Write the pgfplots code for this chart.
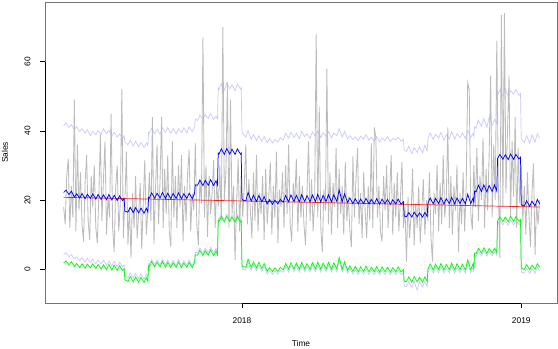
\documentclass[border=0pt]{standalone}
\usepackage{pgfplots}
\usepackage{pgfplotstable}
\pgfplotsset{compat=1.18}
\usepackage{fontspec}
\setmainfont{Liberation Sans}

\definecolor{rawgray}{RGB}{188,188,188}
\definecolor{bandblue}{RGB}{200,200,255}

% day index: 0 = 1 Jan 2017
% d  fit  upper  lower  green
\pgfplotstableread{
d fit up lo gr
132 22.2 41.5 4.2 1.9
135 22.9 42.3 4.8 2.4
139 21.6 41.0 3.6 1.3
142 22.6 41.8 4.3 2.2
146 20.9 40.4 3.0 0.8
149 21.8 41.2 3.6 1.7
153 20.6 39.8 2.5 0.5
156 21.9 40.6 3.4 1.6
160 20.4 39.4 2.1 0.3
163 21.7 40.3 3.2 1.5
167 20.5 38.6 1.9 0.4
170 21.8 39.9 2.9 1.6
174 20.3 38.9 1.6 0.2
177 21.6 40.1 2.7 1.4
181 20.2 39.0 1.5 0.1
184 21.5 40.6 2.6 1.3
188 20.1 39.2 1.2 -0.1
191 21.6 40.2 2.4 1.4
195 20.0 38.5 1.0 -0.2
198 21.4 39.6 2.3 1.2
202 19.9 38.2 0.8 -0.3
205 21.2 39.1 2.0 1.0
209 19.9 37.8 0.8 -0.3
211 20.4 38.6 1.3 0.2
212 16.8 36.8 -2.0 -3.0
216 16.5 36.0 -2.5 -3.5
219 17.9 37.3 -1.1 -2.1
223 16.4 35.6 -2.6 -3.6
226 17.8 37.0 -1.2 -2.2
230 16.3 35.4 -2.7 -3.7
233 17.7 36.6 -1.3 -2.3
237 16.2 35.2 -2.8 -3.8
240 17.6 36.5 -1.4 -2.4
242 16.5 35.8 -2.5 -3.5
243 20.8 39.6 1.6 1.0
244 20.6 39.4 1.4 0.8
247 22.1 40.8 2.8 2.2
251 20.5 39.2 1.3 0.7
254 22.0 40.5 2.7 2.1
258 20.6 39.0 1.3 0.7
261 22.2 40.9 2.9 2.3
265 20.5 39.6 1.2 0.6
268 22.0 41.0 2.7 2.0
272 20.4 39.3 1.1 0.5
275 21.9 40.7 2.6 1.9
279 20.5 39.1 1.2 0.6
282 22.1 40.6 2.8 2.1
286 20.4 39.5 1.1 0.5
289 21.8 40.9 2.5 1.8
293 20.5 39.4 1.2 0.6
296 22.0 41.2 2.7 2.0
300 20.4 39.8 1.1 0.5
303 21.9 41.0 2.6 1.9
304 24.4 43.4 4.9 4.2
307 24.3 43.0 4.8 4.1
310 25.8 44.6 6.2 5.5
314 24.2 43.2 4.7 4.0
317 25.7 44.8 6.1 5.4
321 24.3 43.6 4.8 4.1
324 25.9 45.0 6.3 5.6
328 24.2 43.3 4.6 3.9
331 25.6 44.2 6.0 5.3
333 24.4 43.5 4.9 4.2
334 33.6 52.4 14.7 14.1
335 33.3 52.0 14.4 13.8
338 34.8 53.6 15.8 15.2
342 33.2 51.8 14.3 13.7
345 34.9 53.8 15.9 15.3
349 33.3 52.2 14.4 13.8
352 34.7 53.3 15.7 15.1
356 33.2 51.6 14.2 13.6
359 34.8 53.5 15.8 15.2
363 33.3 52.1 14.3 13.7
364 33.6 52.5 14.6 14.0
365 20.3 39.8 0.4 1.2
366 20.0 39.3 0.0 0.8
370 19.8 38.2 -0.2 0.6
373 22.2 40.1 2.1 2.9
377 19.7 37.6 -0.3 0.5
380 21.4 39.0 1.3 2.1
384 19.6 37.2 -0.4 0.4
387 21.3 38.6 1.2 2.0
391 19.5 36.9 -0.6 0.2
394 21.0 38.4 0.9 1.7
398 18.9 36.6 -1.4 -0.6
401 20.1 37.8 -0.3 0.5
405 18.8 36.5 -1.5 -0.7
408 20.0 37.5 -0.4 0.4
412 18.9 36.8 -1.4 -0.6
415 20.2 38.0 -0.2 0.6
419 19.4 37.4 -0.9 -0.1
422 21.3 39.3 0.9 1.7
426 19.5 37.9 -0.8 0.0
429 21.5 39.6 1.1 1.9
433 19.6 38.1 -0.7 0.1
436 21.4 39.4 1.0 1.8
440 19.5 37.7 -0.8 0.0
443 21.6 39.9 1.2 2.0
447 19.6 38.3 -0.7 0.1
450 21.3 39.2 0.9 1.7
454 19.5 37.8 -0.8 0.0
457 21.5 39.7 1.1 1.9
461 19.6 38.5 -0.7 0.1
464 21.7 40.0 1.3 2.1
468 19.5 38.1 -0.8 0.0
471 21.4 39.5 1.0 1.8
475 19.6 38.4 -0.7 0.1
478 21.6 39.8 1.2 2.0
482 19.5 38.0 -0.8 0.0
485 21.5 39.4 1.1 1.9
489 19.6 38.6 -0.7 0.1
492 22.9 40.6 2.6 3.4
496 19.5 38.2 -0.8 0.0
499 21.8 39.9 1.4 2.2
503 19.3 37.7 -1.1 -0.3
506 20.6 38.6 0.2 1.0
510 19.0 37.5 -1.4 -0.6
513 20.4 38.3 0.0 0.8
517 18.9 37.1 -1.5 -0.7
520 20.3 38.5 -0.1 0.7
524 19.0 37.6 -1.4 -0.6
527 20.5 38.9 0.1 0.9
531 18.9 37.3 -1.5 -0.7
534 20.2 38.2 -0.2 0.6
538 18.9 37.0 -1.5 -0.7
541 20.4 38.4 0.0 0.8
545 18.8 36.8 -1.6 -0.8
548 20.3 38.0 -0.1 0.7
552 18.9 37.2 -1.5 -0.7
555 20.2 38.3 -0.2 0.6
559 18.8 36.9 -1.6 -0.8
562 20.1 37.8 -0.3 0.5
566 18.9 37.4 -1.5 -0.7
569 20.3 38.2 -0.1 0.7
573 18.8 37.0 -1.6 -0.8
576 19.5 37.6 -0.9 -0.1
577 15.4 34.6 -4.8 -3.4
580 15.2 34.0 -5.0 -3.6
583 16.4 35.6 -3.6 -2.2
587 15.1 33.4 -5.2 -3.7
590 16.5 35.2 -3.5 -2.1
594 15.2 33.8 -6.0 -3.6
597 16.3 35.4 -3.7 -2.3
601 15.1 33.6 -5.1 -3.7
604 16.4 35.8 -3.6 -2.2
607 15.3 34.2 -4.9 -3.5
608 19.1 37.8 -0.9 0.0
611 20.6 39.4 0.7 1.6
615 18.9 37.5 -1.1 -0.2
618 20.5 39.0 0.6 1.5
622 19.0 37.9 -1.0 -0.1
625 20.7 39.6 0.8 1.7
629 18.9 37.3 -1.1 -0.2
632 20.4 38.9 0.5 1.4
636 19.0 37.7 -1.0 -0.1
639 20.8 39.8 0.9 1.8
643 18.9 37.6 -1.1 -0.2
646 20.6 39.2 0.7 1.6
650 19.0 38.0 -1.0 -0.1
653 20.5 39.5 0.6 1.5
657 18.9 37.8 -1.1 -0.2
660 21.7 40.2 1.8 2.7
664 19.0 38.1 -1.0 -0.1
667 20.6 39.3 0.7 1.6
668 19.2 38.3 -0.8 0.1
669 22.6 41.2 3.9 4.7
671 22.4 40.8 3.8 4.6
674 24.3 43.1 5.3 6.1
678 22.5 41.3 3.9 4.7
681 24.4 43.6 5.4 6.2
685 22.4 41.0 3.8 4.6
688 24.2 43.9 5.2 6.0
692 22.5 41.6 3.9 4.7
695 24.4 43.4 5.3 6.1
698 22.6 42.0 4.0 4.8
699 32.0 50.4 12.9 13.9
702 33.2 51.8 14.2 15.2
706 31.8 50.0 12.8 13.8
709 33.1 52.3 14.1 15.1
713 31.7 49.8 12.7 13.7
716 33.3 51.6 14.3 15.3
720 31.8 50.6 12.8 13.8
723 33.2 52.0 14.2 15.2
727 31.9 50.2 12.9 13.9
729 32.4 50.8 13.4 14.4
730 18.6 37.8 -0.8 0.3
734 18.3 36.6 -1.1 0.0
737 19.8 38.6 0.3 1.3
741 18.2 36.4 -1.2 -0.1
744 19.7 38.9 0.2 1.2
748 18.3 36.8 -1.1 0.0
751 20.2 39.2 0.6 1.6
754 18.9 37.9 -0.5 0.6
}\fitdata

\begin{document}
\begin{tikzpicture}
\begin{axis}[
  scale only axis,
  width=512bp, height=301bp,
  xmin=107.6, xmax=776.7,
  ymin=-9.74, ymax=77.25,
  xtick={365,730}, xticklabels={2018,2019},
  ytick={0,20,40,60},
  tick pos=left,
  tick align=outside,
  major tick length=5bp,
  tick style={black, line width=0.6pt},
  axis line style={black!55, line width=0.6pt},
  ticklabel style={font=\fontsize{8.4}{10}\selectfont},
  /pgf/number format/assume math mode=true,
  yticklabel style={rotate=90, anchor=south},
  xticklabel shift=6bp,
  yticklabel shift=6bp,
  clip mode=individual,
]
\addplot[bandblue, line width=0.7pt] table[x=d, y=up] {\fitdata};
\addplot[bandblue, line width=0.7pt] table[x=d, y=lo] {\fitdata};
\addplot[rawgray, line width=0.85pt] coordinates {
(132,18)(134,13)(136,27)(138,32)(140,12)(142,24)(144,15)(146,49)(148,11)(150,36)
(152,17)(154,28)(156,13)(158,8)(160,25)(162,33)(164,14)(166,8.5)(168,27)(170,18)
(172,30)(174,12)(176,7.6)(178,22)(180,39)(182,14)(184,26)(186,37)(188,10)(190,21)
(192,15)(194,45)(196,12)(198,5)(200,24)(202,30)(204,11)(206,19)(208,52)(210,9)
(212,20)(214,34)(216,7)(218,18)(220,3.3)(222,22)(224,12)(226,27)(228,9)(230,16)
(232,25)(234,5.8)(236,19)(238,31.6)(240,10)(242,17)(244,28)(246,14)(248,44)(250,7.3)
(252,23)(254,36)(256,13)(258,26)(260,44)(262,12)(264,29)(266,16)(268,33)(270,11)
(272,6.5)(274,37)(276,15)(278,27)(280,12)(282,30)(284,18)(286,33)(288,8)(290,24)
(292,14)(294,28)(296,34.5)(298,11)(300,22)(302,17)(304,36.5)(306,13)(308,7)(310,26)
(312,19)(314,67)(316,15)(318,30)(320,9.4)(322,27)(324,16)(326,22)(328,31.6)(330,12)
(332,25)(334,18)(336,30)(338,14)(340,70)(342,20)(344,28)(346,54)(348,12)(350,49)
(352,16)(354,24)(356,2.7)(358,19)(360,32)(362,11)(364,27)(366,15)(368,24)(370,36)
(372,13)(374,26)(376,17)(378,9)(380,28)(382,14)(384,33)(386,11)(388,22)(390,16)
(392,27)(394,8.5)(396,29)(398,13)(400,21)(402,31)(404,10)(406,24)(408,15)(410,34)
(412,7.5)(414,23)(416,18)(418,28)(420,12)(422,30)(424,16)(426,36)(428,13)(430,8)
(432,25)(434,19)(436,32)(438,11)(440,27)(442,15)(444,24)(446,13)(448,7)(450,22)
(452,37)(454,14)(456,26)(458,11)(460,20)(462,68)(464,15)(466,47)(468,12)(470,5)
(472,23)(474,17)(476,58)(478,13)(480,28)(482,10)(484,25)(486,18)(488,35)(490,12)
(492,29)(494,16)(496,24)(498,10)(500,31)(502,14)(504,21)(506,11)(508,6.5)(510,32.6)
(512,15)(514,26)(516,35)(518,13)(520,22)(522,9)(524,28)(526,17)(528,9)(530,24)
(532,14)(534,36.5)(536,12)(538,41)(540,38)(542,15)(544,24)(546,11)(548,8)(550,27)
(552,17)(554,30)(556,12)(558,22)(560,33)(562,10)(564,25)(566,15)(568,28)(570,11)
(572,20)(574,31)(576,12)(578,18)(580,2.2)(582,21)(584,9)(586,16)(588,29)(590,7)
(592,19)(594,12)(596,24)(598,7.5)(600,17)(602,26)(604,10)(606,20)(608,14)(610,28)
(612,9)(614,2.2)(616,22)(618,16)(620,30)(622,11)(624,25)(626,13)(628,33)(630,15)
(632,21)(634,41)(636,12)(638,27)(640,10)(642,24)(644,17)(646,30)(648,5)(650,22)
(652,13)(654,28)(656,11)(658,24)(660,54)(662,52)(664,16)(666,11.4)(668,30)(670,18)
(672,35)(674,14)(676,27)(678,20)(680,38)(682,12)(684,29)(686,17)(688,33)(690,56)
(692,15)(694,36)(696,20)(698,66)(700,25)(702,3.3)(704,73.5)(706,18)(708,74)(710,22)
(712,40)(714,56)(716,15)(718,37)(720,21)(722,44)(724,12)(726,35)(728,19)(730,30)
(732,14)(734,24)(736,10)(738,28)(740,16)(742,6.5)(744,22)(746,30.6)(748,4.1)(750,19)
(752,13)(754,20)
};
\addplot[red, opacity=0.85, line width=0.7pt] coordinates {(132,20.8) (443,19.4) (754,18.0)};
\addplot[blue, line width=0.75pt] table[x=d, y=fit] {\fitdata};
\addplot[green, line width=0.75pt] table[x=d, y=gr] {\fitdata};

\draw[black, line width=0.6pt] (axis cs:365,-9.74) -- (axis cs:730,-9.74);
\draw[black, line width=0.6pt] (axis cs:107.6,0) -- (axis cs:107.6,60);
\node[font=\fontsize{8.4}{10}\selectfont] at ([yshift=-40bp]rel axis cs:0.5,0) {Time};
\node[font=\fontsize{8.4}{10}\selectfont, rotate=90] at ([xshift=-40bp]rel axis cs:0,0.5) {Sales};
\coordinate (bl) at (rel axis cs:0,0);
\coordinate (tr) at (rel axis cs:1,1);
\end{axis}
\pgfresetboundingbox
\path[use as bounding box] ([shift={(-45bp,-45bp)}]bl) rectangle ([shift={(1bp,2bp)}]tr);
\end{tikzpicture}
\end{document}
